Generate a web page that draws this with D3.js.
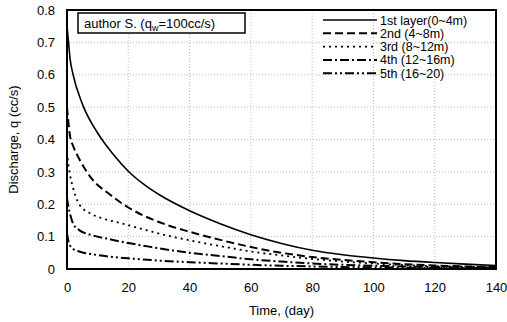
<!DOCTYPE html>
<html>
<head>
<meta charset="utf-8">
<script src="https://cdn.jsdelivr.net/npm/d3@7"></script>
<style>
  body { margin: 0; background: #fff; }
  svg { display: block; font-family: "Liberation Sans", Arial, sans-serif; }
</style>
</head>
<body>
<svg id="chart" width="507" height="322"></svg>
<script>
// Data
// ---------------------------
const seriesNames = ["1st layer(0~4m)", "2nd (4~8m)", "3rd (8~12m)", "4th (12~16m)", "5th (16~20)"];

const layer1 = [[0,0.75],[0.5,0.70],[1,0.65],[2,0.60],[5,0.51],[10,0.42],[15,0.355],[20,0.302],[25,0.262],[30,0.23],[40,0.18],[50,0.14],[60,0.106],[70,0.079],[80,0.058],[90,0.044],[100,0.034],[110,0.026],[120,0.02],[130,0.015],[140,0.011]];
const layer2 = [[0,0.50],[0.5,0.45],[1,0.41],[2,0.38],[4,0.34],[8,0.28],[14,0.23],[20,0.19],[25,0.165],[30,0.145],[40,0.115],[50,0.09],[60,0.068],[70,0.05],[80,0.037],[90,0.028],[100,0.021],[110,0.015],[120,0.011],[130,0.008],[140,0.006]];
const layer3 = [[0,0.36],[0.5,0.32],[1,0.29],[2,0.25],[4,0.20],[8,0.17],[12,0.155],[17,0.143],[24,0.125],[32,0.105],[43,0.083],[54,0.064],[63,0.05],[70,0.042],[80,0.031],[90,0.023],[100,0.017],[110,0.012],[120,0.009],[130,0.007],[140,0.005]];
const layer4 = [[0,0.22],[0.5,0.19],[1,0.17],[2,0.14],[4,0.12],[8,0.105],[14,0.092],[20,0.08],[25,0.072],[30,0.064],[40,0.05],[50,0.04],[60,0.03],[70,0.023],[80,0.017],[90,0.013],[100,0.01],[110,0.008],[120,0.006],[130,0.005],[140,0.004]];
const layer5 = [[0,0.11],[0.5,0.085],[1,0.072],[2,0.062],[4,0.054],[8,0.046],[14,0.038],[20,0.033],[30,0.026],[40,0.021],[50,0.017],[60,0.013],[70,0.01],[80,0.008],[90,0.006],[100,0.005],[110,0.004],[120,0.003],[130,0.003],[140,0.002]];

const xTicks = [0, 20, 40, 60, 80, 100, 120, 140];
const yTicks = [0, 0.1, 0.2, 0.3, 0.4, 0.5, 0.6, 0.7, 0.8];

// Layout
// ------
const margin = { left: 67, right: 11, top: 10, bottom: 53 };
const width = 507, height = 322;
const svg = d3.select("#chart");

const x = d3.scaleLinear().domain([0, 140]).range([margin.left, width - margin.right]);
const y = d3.scaleLinear().domain([0, 0.8]).range([height - margin.bottom, margin.top]);

// Grid
svg.append("g")
  .selectAll("line").data(xTicks.slice(1, -1)).join("line")
  .attr("x1", d => x(d)).attr("x2", d => x(d))
  .attr("y1", y(0)).attr("y2", y(0.8))
  .attr("stroke", "#aaa").attr("stroke-width", 0.8).attr("stroke-dasharray", "1,2");
svg.append("g")
  .selectAll("line").data(yTicks.slice(1, -1)).join("line")
  .attr("x1", x(0)).attr("x2", x(140))
  .attr("y1", d => y(d)).attr("y2", d => y(d))
  .attr("stroke", "#aaa").attr("stroke-width", 0.8).attr("stroke-dasharray", "1,2");

// Axes (labels only, frame drawn separately)
const xAxis = svg.append("g")
  .attr("transform", `translate(0,${y(0)})`)
  .call(d3.axisBottom(x).tickValues(xTicks).tickSize(0).tickPadding(14).tickFormat(d3.format("d")));
const yAxis = svg.append("g")
  .attr("transform", `translate(${x(0)},0)`)
  .call(d3.axisLeft(y).tickValues(yTicks).tickSize(0).tickPadding(12)
    .tickFormat(d => d === 0 ? "0" : d3.format(".1f")(d)));
[xAxis, yAxis].forEach(a => {
  a.select(".domain").remove();
  a.selectAll("text").attr("font-size", 13).attr("fill", "#000")
    .attr("font-family", "Liberation Sans, Arial, sans-serif");
});

// Series
const dashes = [null, "8,4", "2,4", "9,3,2,3", "9,3,2,3,2,3"];
const widths = [1.6, 2, 1.8, 2, 2];
const line = d3.line().x(d => x(d[0])).y(d => y(d[1])).curve(d3.curveMonotoneX);
[layer1, layer2, layer3, layer4, layer5].forEach((s, i) => {
  svg.append("path").datum(s)
    .attr("d", line)
    .attr("fill", "none")
    .attr("stroke", "#000")
    .attr("stroke-width", widths[i])
    .attr("stroke-dasharray", dashes[i]);
});

// Frame
svg.append("rect")
  .attr("x", x(0)).attr("y", y(0.8))
  .attr("width", x(140) - x(0)).attr("height", y(0) - y(0.8))
  .attr("fill", "none").attr("stroke", "#000").attr("stroke-width", 2);

// Author box
const ab = svg.append("g");
ab.append("rect").attr("x", 78).attr("y", 13).attr("width", 167).attr("height", 20)
  .attr("fill", "#fff").attr("stroke", "#000").attr("stroke-width", 1.5);
const at = ab.append("text").attr("x", 84).attr("y", 28).attr("font-size", 13);
at.append("tspan").text("author S. (q");
at.append("tspan").attr("font-size", 9).attr("dy", 3).text("w");
at.append("tspan").attr("dy", -3).text("=100cc/s)");

// Legend
const legend = svg.append("g");
seriesNames.forEach((name, i) => {
  const ly = 20 + i * 13.3;
  legend.append("line")
    .attr("x1", 323).attr("x2", 377).attr("y1", ly).attr("y2", ly)
    .attr("stroke", "#000").attr("stroke-width", widths[i])
    .attr("stroke-dasharray", dashes[i]);
  legend.append("text").attr("x", 380).attr("y", ly + 4.5)
    .attr("font-size", 12.5).text(name);
});

// Axis titles
svg.append("text").attr("x", x(70)).attr("y", 315)
  .attr("text-anchor", "middle").attr("font-size", 13).text("Time, (day)");
svg.append("text").attr("transform", `translate(18,${y(0.4)}) rotate(-90)`)
  .attr("text-anchor", "middle").attr("font-size", 13).text("Discharge, q  (cc/s)");
</script>
</body>
</html>
